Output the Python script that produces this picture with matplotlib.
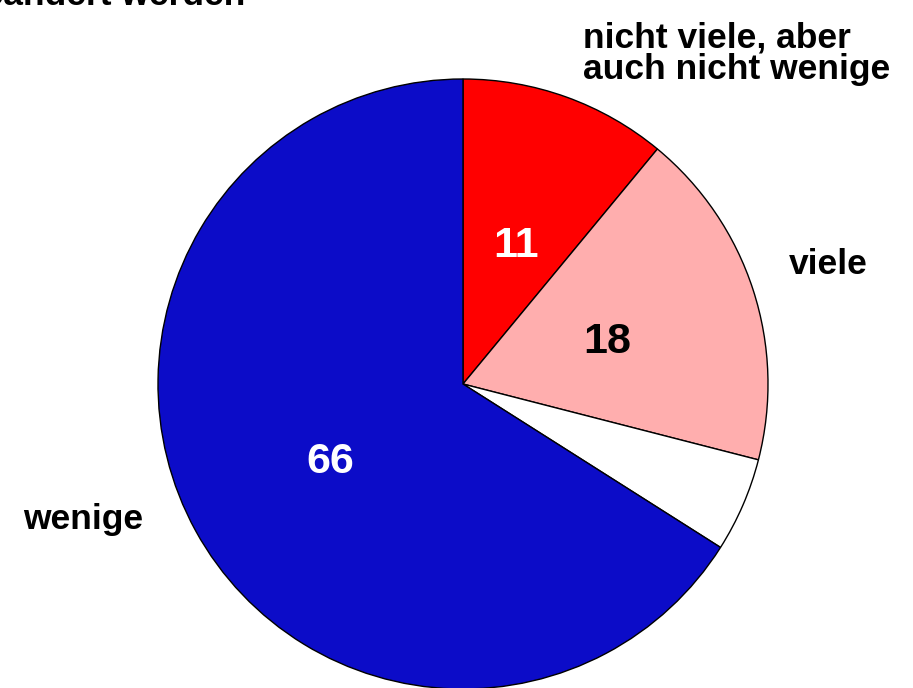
import matplotlib
matplotlib.use('Agg')
import matplotlib.pyplot as plt

plt.rcParams['font.family'] = ['Liberation Sans', 'DejaVu Sans']

categories = ['nicht viele, aber\nauch nicht wenige', 'viele', 'keine Angabe', 'wenige']
values = [11, 18, 5, 66]
colors = ['#FF0000', '#FFAEAE', '#FFFFFF', '#0C0CC8']
value_colors = ['white', 'black', None, 'white']

fig = plt.figure(figsize=(9.13, 6.88), dpi=100)
ax = fig.add_axes([0, 0, 1, 1])

cx, cy, r = 463, 688 - 384, 305
wedges, _ = ax.pie(values, colors=colors, startangle=90, counterclock=False,
                   center=(cx, cy), radius=r,
                   wedgeprops=dict(edgecolor='black', linewidth=1.0))
ax.set_xlim(0, 913)
ax.set_ylim(0, 688)
ax.set_aspect('equal')
ax.axis('off')

# value labels inside the slices
value_pos = [(516, 688 - 246), (607, 688 - 342), None, (330, 688 - 462)]
for v, pos, c in zip(values, value_pos, value_colors):
    if pos is None:
        continue
    ax.text(pos[0], pos[1], str(v), color=c, fontsize=31, fontweight='bold',
            ha='center', va='center')

# category labels outside
ax.text(583, 688 - 54, categories[0], fontsize=25.5, fontweight='bold',
        ha='left', va='center', linespacing=0.95)
ax.text(828, 688 - 264, categories[1], fontsize=25.5, fontweight='bold',
        ha='center', va='center')
ax.text(83, 688 - 520, categories[3], fontsize=25.5, fontweight='bold',
        ha='center', va='center')

# title cut off at the top edge
ax.text(245, 688 - 5, 'geändert werden', fontsize=25.5, fontweight='bold',
        ha='right', va='baseline', clip_on=False)

fig.savefig('out.png', dpi=100)
